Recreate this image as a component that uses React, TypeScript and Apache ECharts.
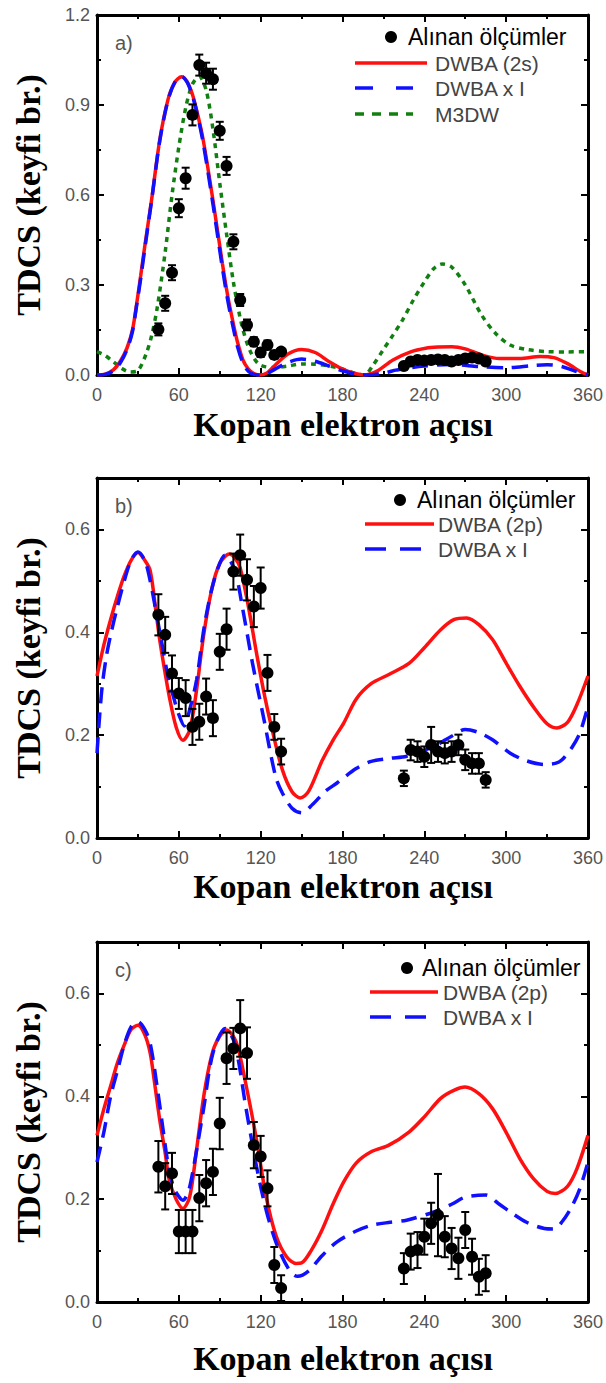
import React, { useEffect, useRef } from 'react';
import * as echarts from 'echarts';

// ---------- texts ----------
const X_TITLE = 'Kopan elektron açısı';
const Y_TITLE = 'TDCS (keyfi br.)';
const LEG_MEAS = 'Alınan ölçümler';
const LEG_A = ['DWBA (2s)', 'DWBA x I', 'M3DW'];
const LEG_BC = ['DWBA (2p)', 'DWBA x I'];
const PANEL_LABELS = ['a)', 'b)', 'c)'];

// ---------- axes ----------
const X_MIN = 0;
const X_MAX = 360;
const X_STEP = 60;
const Y_MAX = [1.2, 0.7, 0.7];
const Y_STEP = [0.3, 0.2, 0.2];

// ---------- panel a ----------
const A_DWBA_2S: [number, number][] = [
  [0, 0], [6, 0.003], [12, 0.017], [17, 0.045], [22, 0.09], [26, 0.15], [29, 0.235], [32, 0.33], [35, 0.428],
  [40, 0.583], [46, 0.783], [52, 0.917], [57, 0.975], [62, 0.994], [66, 0.978], [70, 0.935], [74, 0.865],
  [78, 0.78], [85, 0.583], [92, 0.37], [96, 0.26], [100, 0.17], [103, 0.11], [107, 0.05], [111, 0.02],
  [115, 0.005], [120, 0], [125, 0.008], [130, 0.03], [140, 0.07], [150, 0.085], [160, 0.075], [170, 0.045],
  [180, 0.02], [190, 0.004], [196, 0], [205, 0.012], [217, 0.05], [230, 0.077], [241, 0.089], [250, 0.093],
  [260, 0.094], [270, 0.087], [285, 0.063], [295, 0.055], [310, 0.055], [325, 0.062], [335, 0.058],
  [345, 0.038], [355, 0.01], [360, 0],
];
const A_DWBA_XI: [number, number][] = [
  [0, 0], [6, 0.002], [12, 0.014], [17, 0.04], [22, 0.085], [26, 0.145], [29, 0.23], [32, 0.32], [35, 0.42],
  [40, 0.58], [46, 0.78], [52, 0.915], [57, 0.975], [62, 0.995], [66, 0.977], [70, 0.93], [74, 0.86],
  [78, 0.77], [85, 0.57], [92, 0.355], [96, 0.245], [100, 0.155], [103, 0.095], [107, 0.04], [111, 0.012],
  [115, 0.002], [120, 0], [125, 0.005], [130, 0.018], [140, 0.042], [150, 0.053], [160, 0.046], [170, 0.03],
  [180, 0.014], [190, 0.003], [198, 0], [210, 0.006], [220, 0.017], [240, 0.03], [260, 0.035], [280, 0.028],
  [300, 0.024], [320, 0.032], [330, 0.034], [340, 0.029], [350, 0.014], [360, 0],
];
const A_M3DW: [number, number][] = [
  [0, 0.078], [6, 0.065], [12, 0.044], [18, 0.022], [24, 0.01], [30, 0.015], [36, 0.07], [40, 0.13],
  [44, 0.22], [50, 0.41], [55, 0.6], [60, 0.76], [65, 0.89], [70, 0.97], [75, 0.995], [80, 0.95], [85, 0.82],
  [90, 0.64], [95, 0.47], [100, 0.31], [106, 0.17], [112, 0.083], [119, 0.035], [130, 0.025], [140, 0.03],
  [150, 0.037], [160, 0.036], [170, 0.03], [180, 0.02], [190, 0.005], [196, 0], [202, 0.03], [210, 0.085],
  [217, 0.133], [224, 0.183], [232, 0.25], [240, 0.31], [247, 0.355], [253, 0.37], [260, 0.36], [270, 0.3],
  [282, 0.2], [292, 0.14], [303, 0.1], [315, 0.085], [330, 0.078], [345, 0.077], [360, 0.078],
];
const A_ANG = [45, 50, 55, 60, 65, 70, 75, 80, 85, 90, 95, 100, 105, 110, 115, 120, 125, 130, 135,
  225, 230, 235, 240, 245, 250, 255, 260, 265, 270, 275, 280, 285];
const A_VAL = [0.152, 0.239, 0.341, 0.556, 0.656, 0.867, 1.033, 1.006, 0.986, 0.814, 0.697, 0.444, 0.25,
  0.167, 0.111, 0.075, 0.1, 0.067, 0.078,
  0.03, 0.045, 0.05, 0.048, 0.05, 0.052, 0.05, 0.045, 0.05, 0.055, 0.058, 0.055, 0.045];
const A_ERR = [0.02, 0.025, 0.025, 0.03, 0.035, 0.035, 0.035, 0.035, 0.035, 0.03, 0.03, 0.025, 0.02,
  0.018, 0.015, 0.015, 0.015, 0.012, 0.012,
  0.01, 0.01, 0.01, 0.01, 0.01, 0.01, 0.01, 0.01, 0.01, 0.01, 0.01, 0.01, 0.01];

// ---------- panel b ----------
const B_DWBA_2P: [number, number][] = [
  [0, 0.315], [5, 0.375], [10, 0.425], [15, 0.47], [20, 0.51], [25, 0.54], [30, 0.555], [35, 0.54],
  [39, 0.52], [43, 0.445], [46, 0.385], [50, 0.32], [53, 0.275], [58, 0.216], [63, 0.19], [68, 0.21],
  [73, 0.288], [78, 0.391], [84, 0.482], [90, 0.534], [97, 0.552], [101, 0.545], [105, 0.525], [111, 0.45],
  [117, 0.359], [123, 0.275], [129, 0.204], [136, 0.132], [143, 0.09], [149, 0.078], [155, 0.09],
  [165, 0.15], [173, 0.19], [181, 0.224], [190, 0.27], [201, 0.3], [214, 0.318], [229, 0.34], [240, 0.37],
  [252, 0.405], [262, 0.425], [271, 0.428], [280, 0.415], [290, 0.386], [300, 0.34], [310, 0.295],
  [320, 0.255], [330, 0.222], [337, 0.214], [345, 0.225], [352, 0.26], [360, 0.315],
];
const B_DWBA_XI: [number, number][] = [
  [0, 0.165], [2, 0.24], [4, 0.3], [7, 0.355], [10, 0.395], [15, 0.45], [20, 0.5], [25, 0.54], [30, 0.556],
  [35, 0.54], [39, 0.5], [44, 0.43], [48.5, 0.365], [52, 0.315], [56, 0.275], [60, 0.24], [64, 0.218],
  [68, 0.25], [73, 0.307], [79, 0.417], [86, 0.502], [94, 0.55], [101, 0.521], [107, 0.443], [114, 0.34],
  [122, 0.236], [131, 0.119], [136, 0.087], [143, 0.058], [150, 0.049], [158, 0.065], [167, 0.09],
  [176, 0.107], [190, 0.135], [201, 0.149], [215, 0.155], [227, 0.159], [247, 0.178], [260, 0.198],
  [270, 0.211], [280, 0.205], [290, 0.191], [303, 0.165], [315, 0.15], [328, 0.143], [336, 0.145],
  [341, 0.152], [348, 0.175], [354, 0.204], [360, 0.256],
];
const B_ANG = [45, 50, 55, 60, 65, 70, 75, 80, 85, 90, 95, 100, 105, 110, 115, 120, 125, 130, 135,
  225, 230, 235, 240, 245, 250, 255, 260, 265, 270, 275, 280, 285];
const B_VAL = [0.434, 0.395, 0.32, 0.281, 0.272, 0.216, 0.226, 0.275, 0.233, 0.362, 0.406, 0.518, 0.55,
  0.502, 0.45, 0.486, 0.321, 0.216, 0.168,
  0.116, 0.171, 0.168, 0.158, 0.181, 0.168, 0.165, 0.168, 0.181, 0.152, 0.145, 0.145, 0.113];
const B_ERR = [0.04, 0.035, 0.035, 0.03, 0.035, 0.035, 0.035, 0.035, 0.035, 0.035, 0.04, 0.035, 0.04,
  0.04, 0.04, 0.04, 0.035, 0.025, 0.025,
  0.015, 0.02, 0.02, 0.02, 0.035, 0.02, 0.02, 0.02, 0.02, 0.02, 0.02, 0.02, 0.015];

// ---------- panel c ----------
const C_DWBA_2P: [number, number][] = [
  [0, 0.324], [5, 0.375], [10, 0.42], [15, 0.465], [20, 0.5], [25, 0.53], [30, 0.538], [35, 0.52],
  [39, 0.484], [42, 0.43], [46, 0.354], [50, 0.29], [53, 0.237], [58, 0.2], [63, 0.182], [68, 0.205],
  [73, 0.296], [79, 0.412], [86, 0.496], [95, 0.529], [102, 0.506], [109.5, 0.419], [117, 0.315],
  [124, 0.205], [131.5, 0.127], [139, 0.088], [146, 0.075], [150, 0.076], [157, 0.1], [165, 0.14],
  [173, 0.19], [181, 0.234], [190, 0.27], [201, 0.292], [214, 0.305], [229, 0.331], [240, 0.36],
  [252, 0.396], [262, 0.412], [270, 0.418], [280, 0.405], [290, 0.376], [300, 0.33], [310, 0.279],
  [320, 0.24], [330, 0.215], [336, 0.211], [345, 0.225], [352, 0.26], [360, 0.324],
];
const C_DWBA_XI: [number, number][] = [
  [0, 0.272], [5, 0.33], [10, 0.4], [15, 0.45], [20, 0.5], [25, 0.535], [30, 0.545], [35, 0.53],
  [39, 0.503], [44, 0.42], [48.5, 0.334], [52, 0.27], [56, 0.224], [60, 0.205], [63, 0.198], [67, 0.215],
  [70.5, 0.257], [78, 0.373], [85, 0.484], [94, 0.532], [101, 0.503], [109.5, 0.373], [117, 0.263],
  [124, 0.179], [131.5, 0.114], [141, 0.062], [147, 0.05], [155, 0.06], [165, 0.09], [176, 0.117],
  [190, 0.138], [201, 0.149], [215, 0.155], [227, 0.159], [247, 0.175], [260, 0.19], [270, 0.204],
  [285, 0.208], [295, 0.19], [303, 0.175], [315, 0.155], [328, 0.143], [335, 0.142], [341, 0.156],
  [348, 0.185], [354, 0.22], [360, 0.272],
];
const C_ANG = [45, 50, 55, 60, 65, 70, 75, 80, 85, 90, 95, 100, 105, 110, 115, 120, 125, 130, 135,
  225, 230, 235, 240, 245, 250, 255, 260, 265, 270, 275, 280, 285];
const C_VAL = [0.263, 0.225, 0.25, 0.137, 0.137, 0.137, 0.202, 0.231, 0.253, 0.347, 0.474, 0.493, 0.532,
  0.484, 0.305, 0.283, 0.221, 0.072, 0.027,
  0.065, 0.098, 0.101, 0.127, 0.153, 0.169, 0.127, 0.104, 0.085, 0.14, 0.088, 0.049, 0.056];
const C_ERR = [0.05, 0.045, 0.04, 0.042, 0.042, 0.042, 0.045, 0.045, 0.045, 0.05, 0.05, 0.04, 0.055,
  0.05, 0.045, 0.04, 0.035, 0.035, 0.025,
  0.03, 0.035, 0.035, 0.035, 0.04, 0.08, 0.04, 0.04, 0.04, 0.035, 0.035, 0.035, 0.035];

// ---------- layout / style ----------
const W = 606;
const H = 1383;
const GRID_LEFT = 97;
const GRID_W = 492;
const GRID_H = 360;
const GRID_TOPS = [15, 478, 942];
const X_TITLE_Y = [424, 886, 1358];
const RED = '#ff1010';
const BLUE = '#1010ff';
const GREEN = '#118011';
const TICK_COLOR = '#555';
const SANS = 'Arial, "Liberation Sans", sans-serif';
const SERIF = '"Liberation Serif", "Times New Roman", serif';

function errorBarRender(params: any, api: any) {
  const x = api.value(0);
  const y = api.value(1);
  const e = api.value(2);
  const top = api.coord([x, y + e]);
  const bot = api.coord([x, y - e]);
  const hw = 4;
  const st = { stroke: '#000', lineWidth: 2 };
  return {
    type: 'group',
    children: [
      { type: 'line', shape: { x1: top[0], y1: top[1], x2: bot[0], y2: bot[1] }, style: st },
      { type: 'line', shape: { x1: top[0] - hw, y1: top[1], x2: top[0] + hw, y2: top[1] }, style: st },
      { type: 'line', shape: { x1: bot[0] - hw, y1: bot[1], x2: bot[0] + hw, y2: bot[1] }, style: st },
    ],
  };
}

function textEl(text: string, x: number, y: number, font: string, fill: string, align = 'left', rotation = 0) {
  return {
    type: 'text',
    x,
    y,
    rotation,
    z: 10,
    style: {
      text,
      font,
      fill,
      align,
      verticalAlign: 'middle',
      textAlign: align,
      textVerticalAlign: 'middle',
    },
  };
}

function lineEl(x1: number, x2: number, y: number, color: string, dash: number[] | null) {
  return {
    type: 'line',
    z: 10,
    shape: { x1, y1: y, x2, y2: y },
    style: { stroke: color, lineWidth: 3.5, lineDash: dash || undefined },
  };
}

export default function App() {
  const ref = useRef<HTMLDivElement>(null);

  useEffect(() => {
    if (!ref.current) return;
    const chart = echarts.init(ref.current, undefined, { renderer: 'svg', width: W, height: H });

    const grids = GRID_TOPS.map((top) => ({ left: GRID_LEFT, top, width: GRID_W, height: GRID_H, show: false }));

    const xAxes: any[] = [];
    const yAxes: any[] = [];
    GRID_TOPS.forEach((_, i) => {
      const common = {
        gridIndex: i,
        type: 'value',
        splitLine: { show: false },
        axisLine: { show: true, onZero: false, lineStyle: { color: '#000', width: 3 } },
        axisTick: { show: true, inside: true, length: 7, lineStyle: { color: '#000', width: 2 } },
        minorTick: { show: true, splitNumber: 2, length: 4, lineStyle: { color: '#000', width: 2 } },
      };
      const xCommon = { ...common, min: X_MIN, max: X_MAX, interval: X_STEP };
      xAxes.push({
        ...xCommon,
        position: 'bottom',
        axisLabel: { show: true, margin: 11, fontSize: 18, fontFamily: SANS, color: TICK_COLOR },
      });
      xAxes.push({ ...xCommon, position: 'top', axisLabel: { show: false } });
      const yCommon = { ...common, min: 0, max: Y_MAX[i], interval: Y_STEP[i] };
      yAxes.push({
        ...yCommon,
        position: 'left',
        axisLabel: {
          show: true,
          margin: 7,
          fontSize: 18,
          fontFamily: SANS,
          color: TICK_COLOR,
          showMaxLabel: i === 0,
          formatter: (v: number) => v.toFixed(1),
        },
      });
      yAxes.push({ ...yCommon, position: 'right', axisLabel: { show: false } });
    });

    const curve = (i: number, data: [number, number][], color: string, type: any) => ({
      type: 'line',
      xAxisIndex: 2 * i,
      yAxisIndex: 2 * i,
      data,
      smooth: 0.3,
      showSymbol: false,
      symbol: 'none',
      lineStyle: { color, width: 3.5, type },
      z: 2,
    });
    const points = (i: number, ang: number[], val: number[], err: number[]) => [
      {
        type: 'custom',
        xAxisIndex: 2 * i,
        yAxisIndex: 2 * i,
        data: ang.map((a, k) => [a, val[k], err[k]]),
        encode: { x: 0, y: 1 },
        renderItem: errorBarRender,
        z: 4,
      },
      {
        type: 'scatter',
        xAxisIndex: 2 * i,
        yAxisIndex: 2 * i,
        data: ang.map((a, k) => [a, val[k]]),
        symbol: 'circle',
        symbolSize: 12,
        itemStyle: { color: '#000', opacity: 1 },
        z: 5,
      },
    ];

    const series: any[] = [
      curve(0, A_M3DW, GREEN, [5, 5]),
      curve(0, A_DWBA_2S, RED, 'solid'),
      curve(0, A_DWBA_XI, BLUE, [16, 9]),
      ...points(0, A_ANG, A_VAL, A_ERR),
      curve(1, B_DWBA_2P, RED, 'solid'),
      curve(1, B_DWBA_XI, BLUE, [16, 9]),
      ...points(1, B_ANG, B_VAL, B_ERR),
      curve(2, C_DWBA_2P, RED, 'solid'),
      curve(2, C_DWBA_XI, BLUE, [16, 9]),
      ...points(2, C_ANG, C_VAL, C_ERR),
    ];

    const graphics: any[] = [];
    GRID_TOPS.forEach((top, i) => {
      graphics.push(textEl(X_TITLE, GRID_LEFT + GRID_W / 2, X_TITLE_Y[i], `bold 34px ${SERIF}`, '#000', 'center'));
      graphics.push(textEl(Y_TITLE, 28, top + GRID_H / 2, `bold 34px ${SERIF}`, '#000', 'center', Math.PI / 2));
      graphics.push(textEl(PANEL_LABELS[i], 115, top + 28, `20px ${SANS}`, '#555'));
    });

    // legend a
    graphics.push({ type: 'circle', z: 10, shape: { cx: 391, cy: 37, r: 6 }, style: { fill: '#000' } });
    graphics.push(textEl(LEG_MEAS, 408, 37, `23px ${SANS}`, '#000'));
    graphics.push(lineEl(355, 427, 63, RED, null));
    graphics.push(textEl(LEG_A[0], 435, 63, `21px ${SANS}`, '#444'));
    graphics.push(lineEl(355, 373, 88, BLUE, null));
    graphics.push(lineEl(396, 413, 88, BLUE, null));
    graphics.push(textEl(LEG_A[1], 435, 88, `21px ${SANS}`, '#444'));
    graphics.push(lineEl(355, 413, 114, GREEN, [9, 8]));
    graphics.push(textEl(LEG_A[2], 435, 114, `21px ${SANS}`, '#444'));

    // legend b
    graphics.push({ type: 'circle', z: 10, shape: { cx: 400, cy: 500, r: 6 }, style: { fill: '#000' } });
    graphics.push(textEl(LEG_MEAS, 417, 500, `23px ${SANS}`, '#000'));
    graphics.push(lineEl(365, 434, 524, RED, null));
    graphics.push(textEl(LEG_BC[0], 438, 524, `21px ${SANS}`, '#444'));
    graphics.push(lineEl(365, 386, 549, BLUE, null));
    graphics.push(lineEl(400, 421, 549, BLUE, null));
    graphics.push(textEl(LEG_BC[1], 438, 549, `21px ${SANS}`, '#444'));

    // legend c
    graphics.push({ type: 'circle', z: 10, shape: { cx: 407, cy: 968, r: 6 }, style: { fill: '#000' } });
    graphics.push(textEl(LEG_MEAS, 422, 968, `23px ${SANS}`, '#000'));
    graphics.push(lineEl(370, 438, 992, RED, null));
    graphics.push(textEl(LEG_BC[0], 443, 992, `21px ${SANS}`, '#444'));
    graphics.push(lineEl(370, 391, 1017, BLUE, null));
    graphics.push(lineEl(405, 426, 1017, BLUE, null));
    graphics.push(textEl(LEG_BC[1], 443, 1017, `21px ${SANS}`, '#444'));

    chart.setOption({
      animation: false,
      backgroundColor: '#fff',
      grid: grids,
      xAxis: xAxes,
      yAxis: yAxes,
      series,
      graphic: { elements: graphics },
    });

    return () => chart.dispose();
  }, []);

  return (
    <div
      ref={ref}
      style={{ position: 'absolute', left: 0, top: 0, width: W, height: H, background: '#fff' }}
    />
  );
}
